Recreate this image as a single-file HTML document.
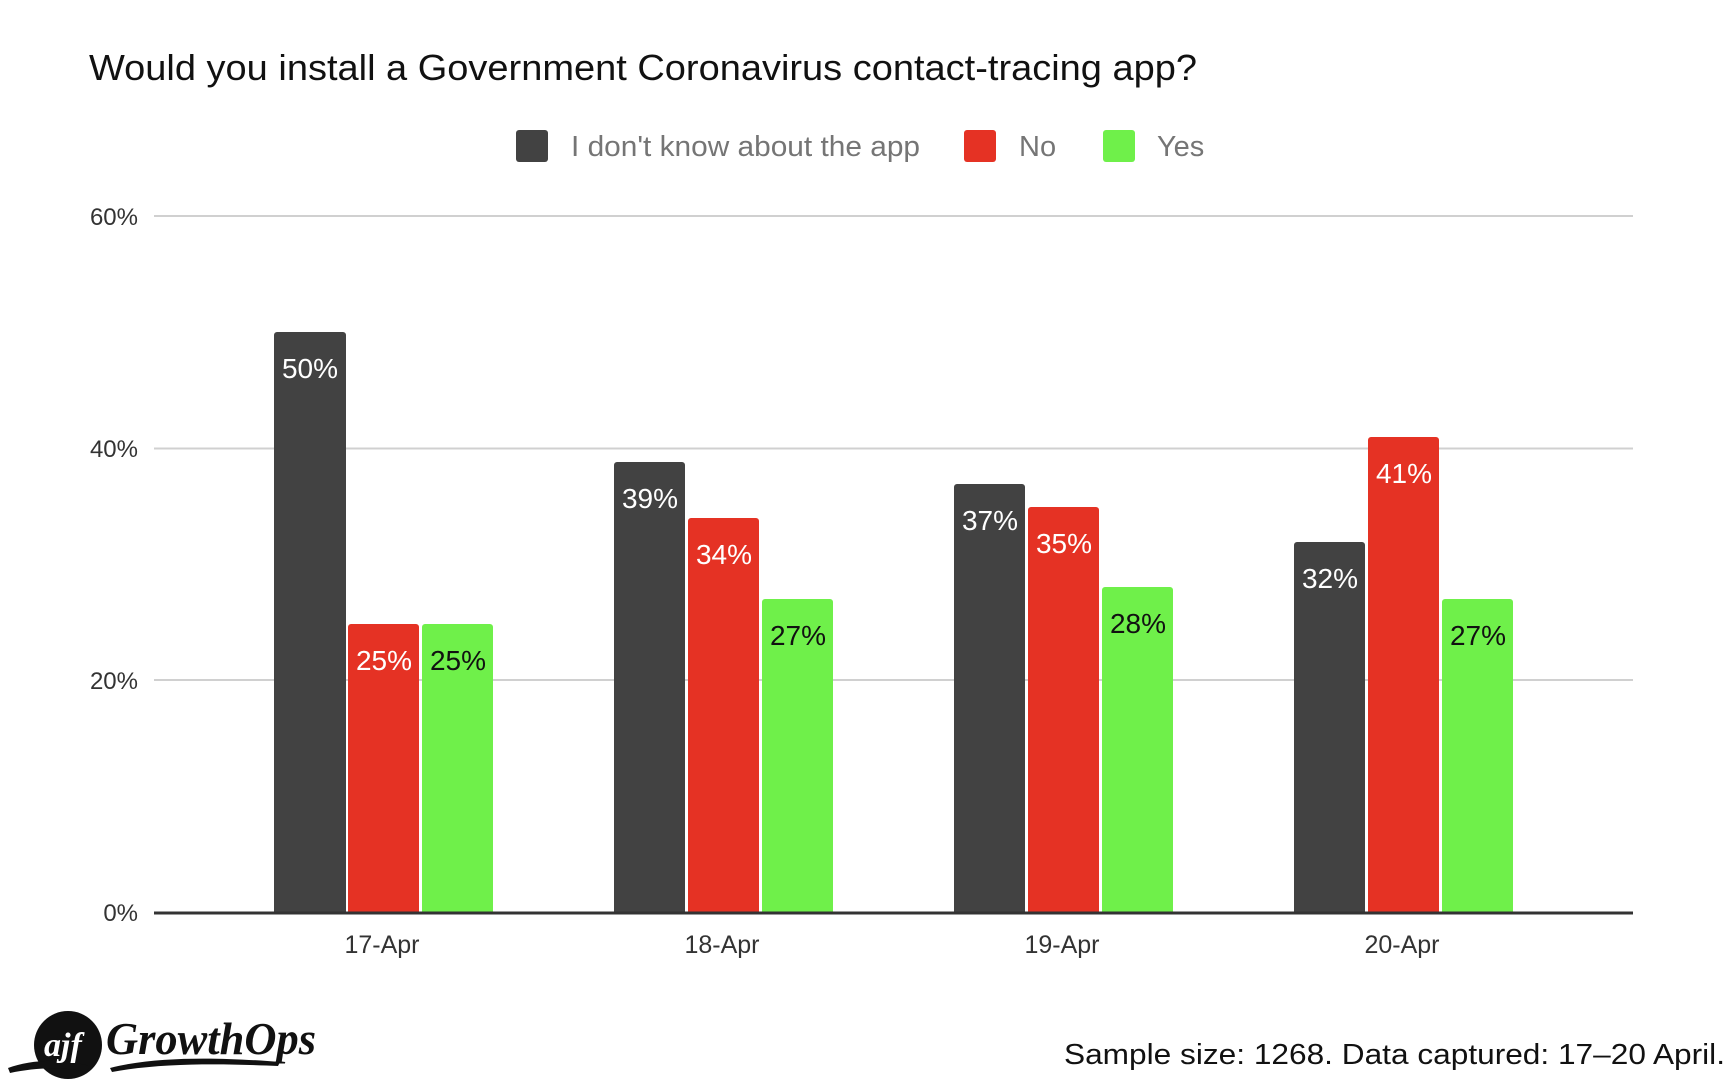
<!DOCTYPE html>
<html><head><meta charset="utf-8"><style>
html,body{margin:0;padding:0;background:#fff;}
svg{display:block;font-family:"Liberation Sans",Arial,sans-serif;}
</style></head><body>
<svg width="1728" height="1086" viewBox="0 0 1728 1086" xmlns="http://www.w3.org/2000/svg">
<rect width="1728" height="1086" fill="#fff"/>
<text x="89" y="80" font-size="36" fill="#111" textLength="1108" lengthAdjust="spacingAndGlyphs">Would you install a Government Coronavirus contact-tracing app?</text>
<!-- legend -->
<rect x="516" y="130" width="32" height="32" rx="3" fill="#424242"/>
<text x="571" y="156" font-size="29" fill="#757575" textLength="349" lengthAdjust="spacingAndGlyphs">I don't know about the app</text>
<rect x="964" y="130" width="32" height="32" rx="3" fill="#e53224"/>
<text x="1019" y="156" font-size="29" fill="#757575">No</text>
<rect x="1103" y="130" width="32" height="32" rx="3" fill="#6ff04a"/>
<text x="1157" y="156" font-size="29" fill="#757575">Yes</text>
<!-- grid -->
<g stroke="#d0d0d0" stroke-width="2">
<line x1="154" y1="216" x2="1633" y2="216"/>
<line x1="154" y1="448.5" x2="1633" y2="448.5"/>
<line x1="154" y1="680" x2="1633" y2="680"/>
</g>
<g font-size="24" fill="#333" text-anchor="end">
<text x="138" y="225">60%</text>
<text x="138" y="457">40%</text>
<text x="138" y="689">20%</text>
<text x="138" y="921">0%</text>
</g>
<!-- bars: baseline 912.5, 11.615 px per % -->
<g>
<path d="M274,912.5V335a3,3 0 0 1 3,-3H343a3,3 0 0 1 3,3V912.5Z" fill="#424242"/>
<path d="M348,912.5V627a3,3 0 0 1 3,-3H416a3,3 0 0 1 3,3V912.5Z" fill="#e53224"/>
<path d="M422,912.5V627a3,3 0 0 1 3,-3H490a3,3 0 0 1 3,3V912.5Z" fill="#6ff04a"/>

<path d="M614,912.5V465a3,3 0 0 1 3,-3H682a3,3 0 0 1 3,3V912.5Z" fill="#424242"/>
<path d="M688,912.5V521a3,3 0 0 1 3,-3H756a3,3 0 0 1 3,3V912.5Z" fill="#e53224"/>
<path d="M762,912.5V602a3,3 0 0 1 3,-3H830a3,3 0 0 1 3,3V912.5Z" fill="#6ff04a"/>

<path d="M954,912.5V487a3,3 0 0 1 3,-3H1022a3,3 0 0 1 3,3V912.5Z" fill="#424242"/>
<path d="M1028,912.5V510a3,3 0 0 1 3,-3H1096a3,3 0 0 1 3,3V912.5Z" fill="#e53224"/>
<path d="M1102,912.5V590a3,3 0 0 1 3,-3H1170a3,3 0 0 1 3,3V912.5Z" fill="#6ff04a"/>

<path d="M1294,912.5V545a3,3 0 0 1 3,-3H1362a3,3 0 0 1 3,3V912.5Z" fill="#424242"/>
<path d="M1368,912.5V440a3,3 0 0 1 3,-3H1436a3,3 0 0 1 3,3V912.5Z" fill="#e53224"/>
<path d="M1442,912.5V602a3,3 0 0 1 3,-3H1510a3,3 0 0 1 3,3V912.5Z" fill="#6ff04a"/>
</g>
<g font-size="28" text-anchor="middle">
<text x="310" y="378" fill="#fff">50%</text>
<text x="384" y="670" fill="#fff">25%</text>
<text x="458" y="670" fill="#111">25%</text>
<text x="650" y="508" fill="#fff">39%</text>
<text x="724" y="564" fill="#fff">34%</text>
<text x="798" y="645" fill="#111">27%</text>
<text x="990" y="530" fill="#fff">37%</text>
<text x="1064" y="553" fill="#fff">35%</text>
<text x="1138" y="633" fill="#111">28%</text>
<text x="1330" y="588" fill="#fff">32%</text>
<text x="1404" y="483" fill="#fff">41%</text>
<text x="1478" y="645" fill="#111">27%</text>
</g>
<line x1="154" y1="913" x2="1633" y2="913" stroke="#333" stroke-width="3"/>
<g font-size="25" fill="#333" text-anchor="middle">
<text x="382" y="953">17-Apr</text>
<text x="722" y="953">18-Apr</text>
<text x="1062" y="953">19-Apr</text>
<text x="1402" y="953">20-Apr</text>
</g>
<!-- logo -->
<circle cx="68" cy="1045" r="34" fill="#111"/>
<path d="M8,1068 C30,1060 60,1058 90,1066 L86,1072 C60,1066 35,1068 10,1073Z" fill="#111"/>
<text x="44" y="1056" font-size="34" font-style="italic" font-weight="bold" fill="#fff" font-family="Liberation Serif,serif">ajf</text>
<text x="106" y="1054" font-size="46" font-style="italic" font-weight="bold" fill="#111" font-family="Liberation Serif,serif" textLength="210" lengthAdjust="spacingAndGlyphs">GrowthOps</text>
<path d="M110,1068 C160,1055 230,1058 280,1062 L278,1066 C230,1064 165,1062 112,1072Z" fill="#111"/>
<text x="1064" y="1064" font-size="29" fill="#111" textLength="661" lengthAdjust="spacingAndGlyphs">Sample size: 1268. Data captured: 17–20 April.</text>
</svg>
</body></html>
